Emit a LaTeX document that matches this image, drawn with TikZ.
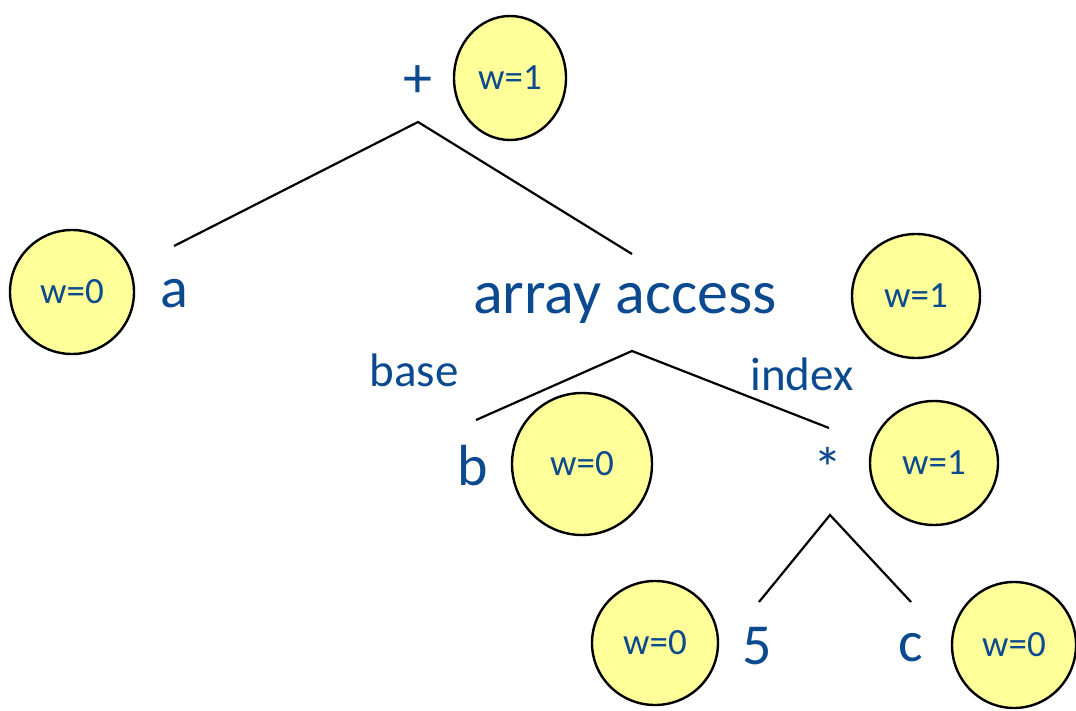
\documentclass[tikz,border=0pt]{standalone}
\usepackage{fontspec}
\setmainfont{Carlito}
\usepackage{xcolor}
\usetikzlibrary{calc}

\definecolor{labelblue}{HTML}{0B4A8E}
\definecolor{weightfill}{HTML}{FFFF99}

\tikzset{
	bubble/.style = {line width = 2.4pt, fill = weightfill},
	weight/.style = {text = labelblue, inner sep = 0pt, font = \fontsize{37}{42}\selectfont},
	term/.style = {text = labelblue, inner sep = 0pt, font = \fontsize{58}{62}\selectfont},
	edgelabel/.style = {text = labelblue, inner sep = 0pt, font = \fontsize{47}{52}\selectfont},
	edge/.style = {line width = 2.2pt}
}

% name, x, y, x radius, y radius, text
\newcommand{\weightbubble}[6]{%
	\filldraw [bubble] (#2,#3) ellipse [x radius = #4, y radius = #5];
	\node [weight] (#1) at (#2,#3) {#6};
}

\begin{document}
\begin{tikzpicture}[x = 1pt, y = -1pt]
		\useasboundingbox (0,0) rectangle (1076,711);
		
		% weight bubbles
		\weightbubble{w plus}{510}{78}{56}{62}{w=1}
		\weightbubble{w a}{72}{292}{62}{62}{w=0}
		\weightbubble{w access}{916}{296}{64}{62}{w=1}
		\weightbubble{w b}{582}{464}{70}{71}{w=0}
		\weightbubble{w times}{934}{463}{64}{62}{w=1}
		\weightbubble{w five}{655}{643}{63}{62}{w=0}
		\weightbubble{w c}{1014}{645}{62}{63}{w=0}
		
		% tree nodes
		\node [term] (plus) at (418,82) {+};
		\node [term] (a) at (174,294) {a};
		\node [term, font = \fontsize{62}{66}\selectfont] (access) at (625,303) {array access};
		\node [term] (b) at (473,466) {b};
		\node [term] (times) at (828,468) {*};
		\node [term] (five) at (757,646) {5};
		\node [term] (c) at (911,648) {c};
		
		\node [edgelabel] (base) at (414,370) {base};
		\node [edgelabel] (index) at (802,374) {index};
		
		% edge ends
		\coordinate (plus top) at (418,122);
		\coordinate (a end) at (174,246);
		\coordinate (access end) at (632,254);
		\coordinate (access top) at (632,351);
		\coordinate (b end) at (476,420);
		\coordinate (times end) at (829,428);
		\coordinate (times top) at (830,515);
		\coordinate (five end) at (759,602);
		\coordinate (c end) at (911,602);
		
		\draw [edge] (a end) -- (plus top) -- (access end);
		\draw [edge] (b end) -- (access top) -- (times end);
		\draw [edge] (five end) -- (times top) -- (c end);
	\end{tikzpicture}
\end{document}
